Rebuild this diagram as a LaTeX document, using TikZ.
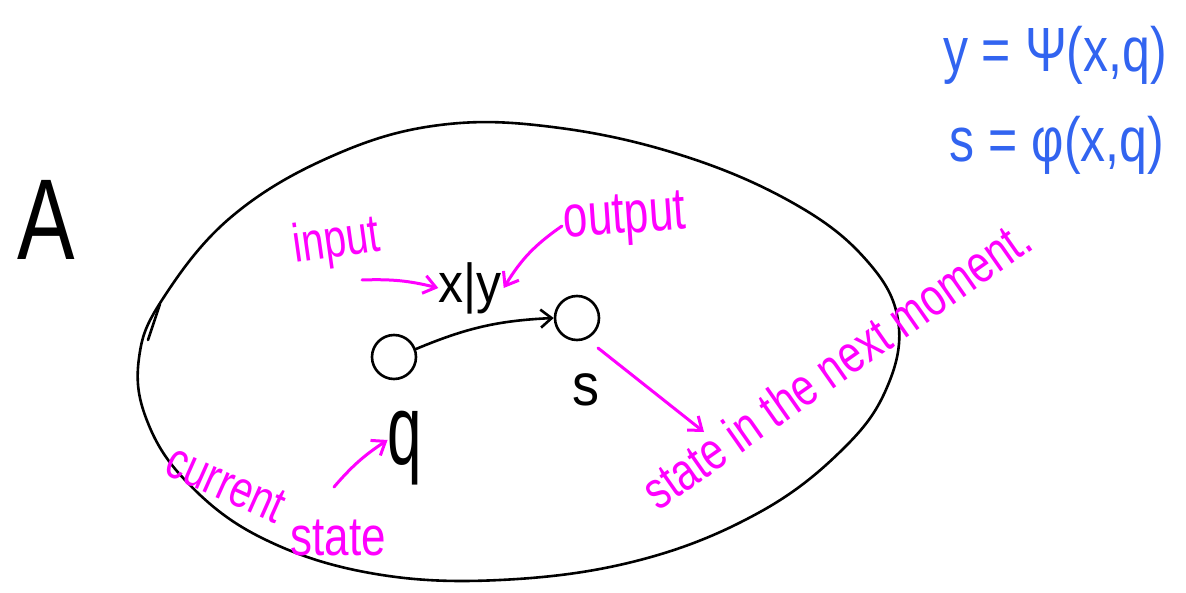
\documentclass[tikz,border=0pt]{standalone}
\usepackage{fontspec}
\setmainfont{Liberation Sans}
\usetikzlibrary{arrows.meta,calc}
\definecolor{pen}{RGB}{255,0,255}
\definecolor{ink}{RGB}{50,100,240}
\tikzset{
  outline/.style={line width=2.6pt, line join=round, line cap=round},
  note/.style={text=pen, inner sep=0pt},
  notearrow/.style={draw=pen, line width=3pt, line cap=round, -{Straight Barb[length=12pt,width=18pt,line width=3pt]}},
  statecircle/.style={circle, draw, line width=2.6pt, minimum width=44pt, inner sep=0pt},
  trans/.style={line width=2.6pt, line cap=round, -{Straight Barb[length=11pt,width=18pt,line width=2.6pt]}},
  sym/.style={inner sep=0pt},
  eqn/.style={text=ink, inner sep=0pt, font=\fontsize{50}{54}\selectfont, yscale=1.25}
}
\begin{document}
\begin{tikzpicture}[x=1pt,y=-1pt]
\useasboundingbox (0,0) rectangle (1186,593);

% the set A: a closed irregular region
\draw[outline] plot[smooth cycle, tension=0.65] coordinates {
  (162,300) (230,218) (330,157) (440,125) (560,128) (690,158) (800,207)
  (868,262) (898,320) (888,385) (845,447) (760,512) (640,560) (500,580)
  (370,573) (260,537) (185,480) (146,418) (139,358)};
\draw[outline] (148,340) -- (160,304);

\node[sym, font=\fontsize{115}{120}\selectfont, xscale=0.75] (A) at (46,220) {A};

% states and the transition between them
\node[statecircle] (q) at (394,357) {};
\node[statecircle] (s) at (577,318) {};
\draw[trans] (q.20) to[bend left=10] (s.west);

\node[sym, font=\fontsize{50}{54}\selectfont, yscale=1.1] (xy) at (470,288) {x|y};
\node[sym, font=\fontsize{62}{66}\selectfont, yscale=1.6] (ql) at (405,448) {q};
\node[sym, font=\fontsize{54}{58}\selectfont, yscale=1.1] (sl) at (586,390) {s};

% annotations
\node[note, font=\fontsize{40}{44}\selectfont, rotate=8, yscale=1.35] (input) at (337,243) {input};
\node[note, font=\fontsize{44}{48}\selectfont, rotate=4, yscale=1.35] (output) at (625,220) {output};
\node[note, font=\fontsize{40}{44}\selectfont, rotate=-24, yscale=1.3] (current) at (226,484) {current};
\node[note, font=\fontsize{44}{48}\selectfont, yscale=1.25] (statew) at (338,538) {state};
\node[note, font=\fontsize{41}{45}\selectfont, rotate=35, yscale=1.3] (next) at (836,364) {state in the next moment.};

\coordinate (inTail) at (362,280);
\coordinate (outTail) at (562,226);
\coordinate (curTail) at (334,487);
\coordinate (nextTail) at (598,348);
\coordinate (nextHead) at (704,432);
\draw[notearrow] (inTail) to[bend left=8] (xy.west);
\draw[notearrow] (outTail) to[bend right=12] ($(xy.east)+(2,0)$);
\draw[notearrow] (curTail) to[bend left=8] ($(ql.west)+(0,-8)$);
\draw[notearrow] (nextTail) -- (nextHead);

% output and next-state functions
\node[eqn] (eqy) at (1055,55) {y = Ψ(x,q)};
\node[eqn] (eqs) at (1057,145) {s = φ(x,q)};
\end{tikzpicture}
\end{document}
